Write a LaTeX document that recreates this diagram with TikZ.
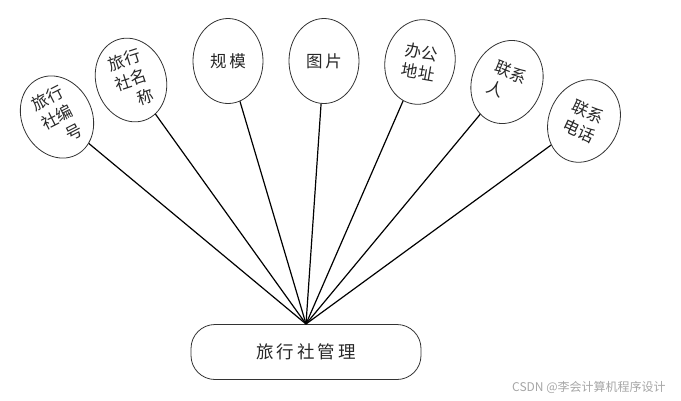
\documentclass[tikz,border=0pt]{standalone}
\usepackage{fontspec}
\setmainfont{Liberation Sans}
\newfontfamily\cjk{Noto Sans CJK SC}
\usetikzlibrary{shapes.geometric}
\begin{document}
\begin{tikzpicture}[x=1pt,y=-1pt,
  attr/.style={ellipse, draw=black!80, line width=0.8pt, minimum width=70pt,
    minimum height=85pt, inner sep=0pt, text=black!85,
    font=\cjk\fontsize{16.5}{21}\selectfont},
  entity/.style={rectangle, rounded corners=24pt, draw=black!80, line width=0.8pt,
    minimum width=230pt, minimum height=55pt, inner sep=0pt, text=black!85,
    font=\cjk\fontsize{17.5}{20}\selectfont},
  link/.style={draw=black, line width=1.2pt},
  wmark/.style={text=black!35, font=\cjk\fontsize{12}{14}\selectfont, anchor=west, inner sep=0pt}]
\useasboundingbox (0,0) rectangle (681,400);
\node[entity] (box) at (306,352) {旅\,行\,社\,管\,理};
\coordinate (hub) at (306,324);
\node[attr, rotate=27, align=right] (e1) at (57,117) {旅行\\社编\\号};
\node[attr, rotate=18, align=right] (e2) at (131,80) {旅行\\社名\\称};
\node[attr] (e3) at (228,61) {规\,模};
\node[attr] (e4) at (324,61) {图\,片};
\node[attr, rotate=-10, align=center] (e5) at (420,62) {办公\\地址};
\node[attr, rotate=-22, align=left] (e6) at (507,82) {联系\\人};
\node[attr, rotate=-25, align=center] (e7) at (584,121) {联系\\电话};
\foreach \e in {e1,e2,e3,e4,e5,e6,e7}
  \draw[link] (\e) -- (hub);
\node[wmark] (wm) at (512,387) {CSDN @李会计算机程序设计};
\end{tikzpicture}
\end{document}
